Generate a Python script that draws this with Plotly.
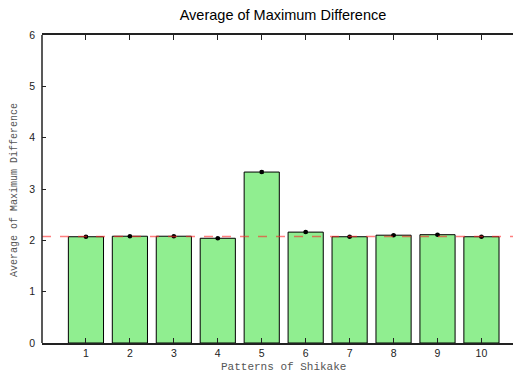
import plotly.graph_objects as go

categories = [1, 2, 3, 4, 5, 6, 7, 8, 9, 10]
values = [2.07, 2.08, 2.08, 2.04, 3.33, 2.16, 2.07, 2.10, 2.11, 2.07]
errors = [0.015, 0.012, 0.012, 0.015, 0.02, 0.015, 0.012, 0.012, 0.012, 0.012]
reference_level = 2.075
y_ticks = [0, 1, 2, 3, 4, 5, 6]

OFF = 8  # default page body margin
W, H = 521 - OFF, 376 - OFF
L, R, T, B = 42 - OFF, 0, 35 - OFF, 33
pw, ph = W - L - R, H - T - B

fig = go.Figure()
fig.add_trace(go.Bar(
    x=categories, y=values, width=0.8,
    marker=dict(color="#90EE90", line=dict(color="black", width=1)),
    showlegend=False,
))
fig.add_trace(go.Scatter(
    x=categories, y=values, mode="markers",
    marker=dict(color="black", size=4.5),
    error_y=dict(type="data", array=errors, color="black", thickness=1, width=2),
    showlegend=False,
))
fig.add_shape(type="line", xref="paper", yref="y", x0=0, x1=1,
              y0=reference_level, y1=reference_level,
              line=dict(color="rgba(255,40,40,0.6)", width=1.5, dash="dash"))
fig.add_shape(type="line", xref="paper", yref="paper", x0=0, x1=0, y0=0, y1=1,
              line=dict(color="#222", width=1.5))

fig.add_annotation(text="Patterns of Shikake", xref="paper", yref="paper",
                   x=(283 - 42) / pw, y=(343 - 367) / ph, xanchor="center", yanchor="middle",
                   showarrow=False,
                   font=dict(family="Liberation Mono", size=11, color="#555"))
fig.add_annotation(text="Average of Maximum Difference", xref="paper", yref="paper",
                   x=(14 - 42) / pw, y=(343 - 190) / ph, xanchor="center", yanchor="middle",
                   textangle=-90, showarrow=False,
                   font=dict(family="Liberation Mono", size=10, color="#555"))

fig.update_layout(
    width=W, height=H,
    margin=dict(l=L, r=R, t=T, b=B),
    plot_bgcolor="white", paper_bgcolor="white",
    title=dict(text="Average of Maximum Difference", x=(283 - OFF) / W, xanchor="center",
               y=(H - (15 - OFF)) / H, yanchor="middle",
               font=dict(family="Liberation Sans", size=14.5, color="black")),
    xaxis=dict(
        range=[0, 10.9], tickvals=categories, ticktext=[str(c) for c in categories],
        ticks="inside", ticklen=5, tickcolor="#222", showline=True, linecolor="#222",
        linewidth=1.5, mirror="ticks", showgrid=False, zeroline=False, automargin=False,
        tickfont=dict(family="Liberation Sans", size=10.5, color="#222"),
    ),
    yaxis=dict(
        range=[0, 6], tickvals=y_ticks, ticks="inside", ticklen=4, tickcolor="#222",
        showline=False, mirror="ticks", showgrid=False, zeroline=False, automargin=False,
        tickfont=dict(family="Liberation Sans", size=10.5, color="#222"),
        ticklabelstandoff=6,
    ),
    bargap=0.2,
)
fig.write_html("out.html")
